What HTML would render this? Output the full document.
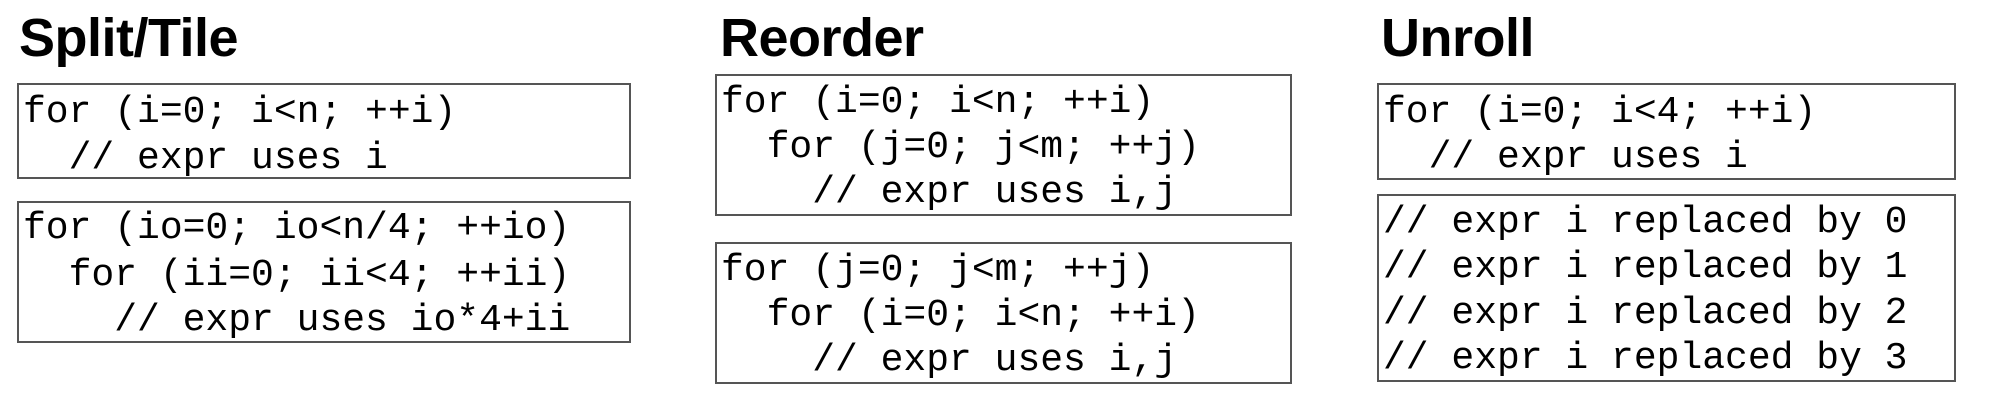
<!DOCTYPE html>
<html><head><meta charset="utf-8"><style>
html,body{margin:0;padding:0;background:#fff;}
svg{display:block}
.t{font-family:"Liberation Sans",sans-serif;font-weight:bold;font-size:54px;fill:#000;letter-spacing:-0.5px}
.c{font-family:"Liberation Mono",monospace;font-size:38px;fill:#000;white-space:pre}
rect{fill:none;stroke:#555;stroke-width:2}
</style></head><body>
<svg width="1995" height="400" viewBox="0 0 1995 400" xmlns="http://www.w3.org/2000/svg" xml:space="preserve">
<text class="t" x="19" y="56">Split/Tile</text>
<rect x="18" y="84" width="612" height="94"/>
<text class="c" x="23" y="122">for (i=0; i&lt;n; ++i)</text>
<text class="c" x="23" y="168">  // expr uses i</text>
<rect x="18" y="202" width="612" height="140"/>
<text class="c" x="23" y="238">for (io=0; io&lt;n/4; ++io)</text>
<text class="c" x="23" y="285">  for (ii=0; ii&lt;4; ++ii)</text>
<text class="c" x="23" y="330">    // expr uses io*4+ii</text>

<text class="t" x="720" y="56">Reorder</text>
<rect x="716" y="75" width="575" height="140"/>
<text class="c" x="721" y="112">for (i=0; i&lt;n; ++i)</text>
<text class="c" x="721" y="157">  for (j=0; j&lt;m; ++j)</text>
<text class="c" x="721" y="202">    // expr uses i,j</text>
<rect x="716" y="243" width="575" height="140"/>
<text class="c" x="721" y="280">for (j=0; j&lt;m; ++j)</text>
<text class="c" x="721" y="325">  for (i=0; i&lt;n; ++i)</text>
<text class="c" x="721" y="370">    // expr uses i,j</text>

<text class="t" x="1381" y="56">Unroll</text>
<rect x="1378" y="84" width="577" height="95"/>
<text class="c" x="1383" y="122">for (i=0; i&lt;4; ++i)</text>
<text class="c" x="1383" y="167">  // expr uses i</text>
<rect x="1378" y="195" width="577" height="186"/>
<text class="c" x="1383" y="232">// expr i replaced by 0</text>
<text class="c" x="1383" y="277">// expr i replaced by 1</text>
<text class="c" x="1383" y="323">// expr i replaced by 2</text>
<text class="c" x="1383" y="368">// expr i replaced by 3</text>
</svg>
</body></html>
